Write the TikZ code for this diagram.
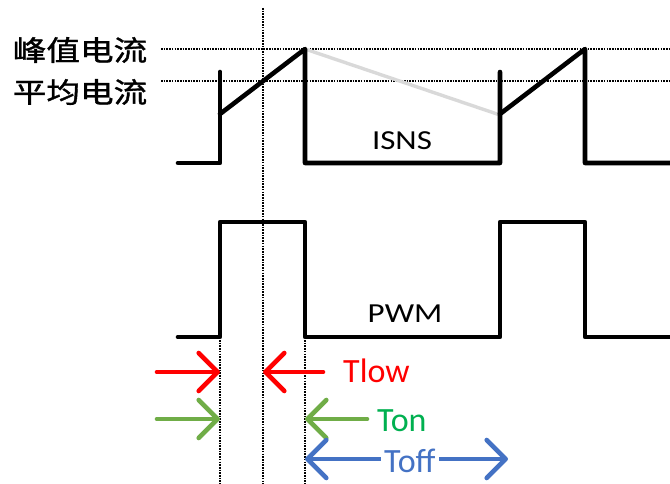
\documentclass[tikz,border=0pt]{standalone}
\usepackage{fontspec}
\setmainfont{Carlito}
\newfontfamily\cjk[FakeBold=1.2]{Noto Sans CJK SC}
\usepackage{tikz}
\usetikzlibrary{arrows.meta,positioning}
\definecolor{sigred}{HTML}{FF0000}
\definecolor{sigleaf}{HTML}{70AD47}
\definecolor{siggreen}{HTML}{00B050}
\definecolor{sigblue}{HTML}{4472C4}
\definecolor{siggrey}{HTML}{D9D9D9}
\tikzset{
  waveform/.style={line width=4.6pt, line cap=round, line join=round, black},
  fallback/.style={line width=3.4pt, line cap=round, siggrey},
  guideline/.style={line width=1.7pt, black, dash pattern=on 1.6pt off 1.1pt},
  timearrow/.style={line width=4.6pt, line cap=round, color=#1,
    -{Straight Barb[length=19pt, width=38pt, line cap=round, line join=round]}},
  timearrow/.default=sigred,
  bothways/.style={line width=4.6pt, line cap=round, color=#1,
    {Straight Barb[length=19pt, width=38pt, line cap=round, line join=round]}-{Straight Barb[length=19pt, width=38pt, line cap=round, line join=round]}},
  siglabel/.style={font=\fontsize{27.5}{30}\selectfont, inner sep=0pt},
  levellabel/.style={font=\cjk\fontsize{28}{30}\selectfont, inner sep=0pt},
  timelabel/.style={font=\fontsize{34}{36}\selectfont, text=#1, inner sep=0pt},
}

\begin{document}
\begin{tikzpicture}[x=1pt, y=-1pt]
    \useasboundingbox (0,0) rectangle (670,484);
    % guide lines
    \draw[guideline] (161,49) -- (670,49);
    \draw[guideline] (161,81) -- (670,81);
    \draw[guideline] (263,8) -- (263,484);
    \draw[guideline] (220,340) -- (220,484);
    \draw[guideline] (305,340) -- (305,484);
    % ISNS
    \draw[fallback] (305,49) -- (500,115);
    \draw[waveform] (178,163) -- (220,163) -- (220,72);
    \draw[waveform] (220,114) -- (305,49) -- (305,163) -- (500,163) -- (500,72);
    \draw[waveform] (500,114) -- (585,49) -- (585,163) -- (670,163);
    % PWM
    \draw[waveform] (178,337) -- (220,337) -- (220,222) -- (305,222) -- (305,337)
      -- (500,337) -- (500,222) -- (585,222) -- (585,337) -- (670,337);
    % labels
    \node[levellabel] (peak) at (80,50) {\scalebox{1.2}[1]{峰值电流}};
    \node[levellabel] (avg) at (80,92) {\scalebox{1.2}[1]{平均电流}};
    \node[siglabel] (isns) at (402,141) {\scalebox{1.2}[1]{ISNS}};
    \node[siglabel] (pwm) at (405,314) {\scalebox{1.2}[1]{PWM}};
    % timing arrows
    \coordinate (lowA) at (157,372);
    \coordinate (lowB) at (323,372);
    \coordinate (onA) at (157,419);
    \coordinate (onB) at (367,419);
    \draw[timearrow] (lowA) -- (220,372);
    \draw[timearrow] (lowB) -- (263,372);
    \draw[timearrow=sigleaf] (onA) -- (220,419);
    \draw[timearrow=sigleaf] (onB) -- (305,419);
    \draw[bothways=sigblue] (305,459) -- (508,459);
    \node[timelabel=sigred, anchor=west] (tlow) at (343,371) {Tlow};
    \node[timelabel=siggreen, anchor=west] (ton) at (377,421) {Ton};
    \node[timelabel=sigblue, anchor=west, fill=white, inner xsep=3pt] (toff) at (381,461) {Toff};
\end{tikzpicture}
\end{document}
